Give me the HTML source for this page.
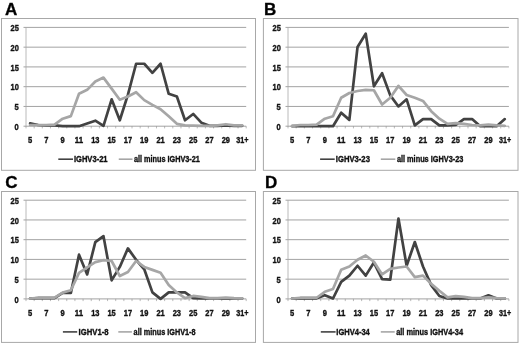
<!DOCTYPE html>
<html lang="en"><head><meta charset="utf-8"><title>IGHV CDR3 length distributions</title>
<style>
html,body{margin:0;padding:0;background:#fff;}
body{width:520px;height:345px;overflow:hidden;}
svg{display:block;}
text{font-family:"Liberation Sans","DejaVu Sans",sans-serif;font-weight:bold;fill:#111;stroke:#111;stroke-width:0.35px;}
.pl{font-size:17px;fill:#000;}
.ax{font-size:8.6px;}
.lg{font-size:8.6px;}
</style></head><body>
<svg width="520" height="345" viewBox="0 0 520 345">
<rect x="0" y="0" width="520" height="345" fill="#fff"/>

<g id="panelA">
<text class="pl" x="4.9" y="15.35">A</text>
<rect x="1.5" y="18.5" width="254" height="151.8" fill="#fff" stroke="#a8a8a8" stroke-width="1"/>
<line x1="23.5" y1="126.2" x2="246.2" y2="126.2" stroke="#8c8c8c" stroke-width="0.8"/>
<text class="ax" x="14.6" y="129.85" textLength="4.2" lengthAdjust="spacingAndGlyphs">0</text>
<line x1="23.5" y1="106.44" x2="246.2" y2="106.44" stroke="#8c8c8c" stroke-width="0.8"/>
<text class="ax" x="14.6" y="110.09" textLength="4.2" lengthAdjust="spacingAndGlyphs">5</text>
<line x1="23.5" y1="86.68" x2="246.2" y2="86.68" stroke="#8c8c8c" stroke-width="0.8"/>
<text class="ax" x="10.5" y="90.33" textLength="8.3" lengthAdjust="spacingAndGlyphs">10</text>
<line x1="23.5" y1="66.92" x2="246.2" y2="66.92" stroke="#8c8c8c" stroke-width="0.8"/>
<text class="ax" x="10.5" y="70.57" textLength="8.3" lengthAdjust="spacingAndGlyphs">15</text>
<line x1="23.5" y1="47.16" x2="246.2" y2="47.16" stroke="#8c8c8c" stroke-width="0.8"/>
<text class="ax" x="10.5" y="50.81" textLength="8.3" lengthAdjust="spacingAndGlyphs">20</text>
<line x1="23.5" y1="27.4" x2="246.2" y2="27.4" stroke="#8c8c8c" stroke-width="0.8"/>
<text class="ax" x="10.5" y="31.05" textLength="8.3" lengthAdjust="spacingAndGlyphs">25</text>
<line x1="26" y1="27.4" x2="26" y2="126.2" stroke="#a8a8a8" stroke-width="0.8"/>
<line x1="26" y1="126.2" x2="26" y2="128.4" stroke="#8c8c8c" stroke-width="0.6"/>
<line x1="34.16" y1="126.2" x2="34.16" y2="128.4" stroke="#8c8c8c" stroke-width="0.6"/>
<line x1="42.31" y1="126.2" x2="42.31" y2="128.4" stroke="#8c8c8c" stroke-width="0.6"/>
<line x1="50.47" y1="126.2" x2="50.47" y2="128.4" stroke="#8c8c8c" stroke-width="0.6"/>
<line x1="58.62" y1="126.2" x2="58.62" y2="128.4" stroke="#8c8c8c" stroke-width="0.6"/>
<line x1="66.78" y1="126.2" x2="66.78" y2="128.4" stroke="#8c8c8c" stroke-width="0.6"/>
<line x1="74.93" y1="126.2" x2="74.93" y2="128.4" stroke="#8c8c8c" stroke-width="0.6"/>
<line x1="83.09" y1="126.2" x2="83.09" y2="128.4" stroke="#8c8c8c" stroke-width="0.6"/>
<line x1="91.24" y1="126.2" x2="91.24" y2="128.4" stroke="#8c8c8c" stroke-width="0.6"/>
<line x1="99.4" y1="126.2" x2="99.4" y2="128.4" stroke="#8c8c8c" stroke-width="0.6"/>
<line x1="107.56" y1="126.2" x2="107.56" y2="128.4" stroke="#8c8c8c" stroke-width="0.6"/>
<line x1="115.71" y1="126.2" x2="115.71" y2="128.4" stroke="#8c8c8c" stroke-width="0.6"/>
<line x1="123.87" y1="126.2" x2="123.87" y2="128.4" stroke="#8c8c8c" stroke-width="0.6"/>
<line x1="132.02" y1="126.2" x2="132.02" y2="128.4" stroke="#8c8c8c" stroke-width="0.6"/>
<line x1="140.18" y1="126.2" x2="140.18" y2="128.4" stroke="#8c8c8c" stroke-width="0.6"/>
<line x1="148.33" y1="126.2" x2="148.33" y2="128.4" stroke="#8c8c8c" stroke-width="0.6"/>
<line x1="156.49" y1="126.2" x2="156.49" y2="128.4" stroke="#8c8c8c" stroke-width="0.6"/>
<line x1="164.64" y1="126.2" x2="164.64" y2="128.4" stroke="#8c8c8c" stroke-width="0.6"/>
<line x1="172.8" y1="126.2" x2="172.8" y2="128.4" stroke="#8c8c8c" stroke-width="0.6"/>
<line x1="180.96" y1="126.2" x2="180.96" y2="128.4" stroke="#8c8c8c" stroke-width="0.6"/>
<line x1="189.11" y1="126.2" x2="189.11" y2="128.4" stroke="#8c8c8c" stroke-width="0.6"/>
<line x1="197.27" y1="126.2" x2="197.27" y2="128.4" stroke="#8c8c8c" stroke-width="0.6"/>
<line x1="205.42" y1="126.2" x2="205.42" y2="128.4" stroke="#8c8c8c" stroke-width="0.6"/>
<line x1="213.58" y1="126.2" x2="213.58" y2="128.4" stroke="#8c8c8c" stroke-width="0.6"/>
<line x1="221.73" y1="126.2" x2="221.73" y2="128.4" stroke="#8c8c8c" stroke-width="0.6"/>
<line x1="229.89" y1="126.2" x2="229.89" y2="128.4" stroke="#8c8c8c" stroke-width="0.6"/>
<line x1="238.04" y1="126.2" x2="238.04" y2="128.4" stroke="#8c8c8c" stroke-width="0.6"/>
<line x1="246.2" y1="126.2" x2="246.2" y2="128.4" stroke="#8c8c8c" stroke-width="0.6"/>
<text class="ax" x="27.98" y="143.2" textLength="4.2" lengthAdjust="spacingAndGlyphs">5</text>
<text class="ax" x="44.29" y="143.2" textLength="4.2" lengthAdjust="spacingAndGlyphs">7</text>
<text class="ax" x="60.6" y="143.2" textLength="4.2" lengthAdjust="spacingAndGlyphs">9</text>
<text class="ax" x="74.86" y="143.2" textLength="8.3" lengthAdjust="spacingAndGlyphs">11</text>
<text class="ax" x="91.17" y="143.2" textLength="8.3" lengthAdjust="spacingAndGlyphs">13</text>
<text class="ax" x="107.48" y="143.2" textLength="8.3" lengthAdjust="spacingAndGlyphs">15</text>
<text class="ax" x="123.79" y="143.2" textLength="8.3" lengthAdjust="spacingAndGlyphs">17</text>
<text class="ax" x="140.11" y="143.2" textLength="8.3" lengthAdjust="spacingAndGlyphs">19</text>
<text class="ax" x="156.42" y="143.2" textLength="8.3" lengthAdjust="spacingAndGlyphs">21</text>
<text class="ax" x="172.73" y="143.2" textLength="8.3" lengthAdjust="spacingAndGlyphs">23</text>
<text class="ax" x="189.04" y="143.2" textLength="8.3" lengthAdjust="spacingAndGlyphs">25</text>
<text class="ax" x="205.35" y="143.2" textLength="8.3" lengthAdjust="spacingAndGlyphs">27</text>
<text class="ax" x="221.66" y="143.2" textLength="8.3" lengthAdjust="spacingAndGlyphs">29</text>
<text class="ax" x="236.32" y="143.2" textLength="12.2" lengthAdjust="spacingAndGlyphs">31+</text>
<polyline points="30.08,123.43 38.23,125.01 46.39,125.41 54.54,125.41 62.7,126.2 70.86,126.2 79.01,126.2 87.17,123.43 95.32,120.67 103.48,125.8 111.63,99.33 119.79,120.27 127.94,94.58 136.1,63.76 144.26,63.76 152.41,72.85 160.57,63.76 168.72,93.79 176.88,96.56 185.03,120.27 193.19,113.95 201.34,122.64 209.5,125.8 217.66,125.8 225.81,125.41 233.97,125.8 242.12,125.8" fill="none" stroke="#424242" stroke-width="2.7" stroke-linejoin="round" stroke-linecap="round"/>
<polyline points="30.08,125.01 38.23,125.01 46.39,125.01 54.54,124.62 62.7,118.69 70.86,116.12 79.01,93.79 87.17,89.84 95.32,81.54 103.48,77.59 111.63,88.66 119.79,99.72 127.94,96.56 136.1,92.21 144.26,100.12 152.41,104.86 160.57,109.21 168.72,116.32 176.88,123.83 185.03,125.41 193.19,125.61 201.34,125.8 209.5,125.8 217.66,125.41 225.81,124.22 233.97,125.41 242.12,125.41" fill="none" stroke="#a6a6a6" stroke-width="2.7" stroke-linejoin="round" stroke-linecap="round"/>
<line x1="58.3" y1="159.2" x2="73" y2="159.2" stroke="#424242" stroke-width="1.6"/>
<text class="lg" x="73.9" y="162.35" textLength="33.7" lengthAdjust="spacingAndGlyphs">IGHV3-21</text>
<line x1="118.75" y1="159.2" x2="132.5" y2="159.2" stroke="#a6a6a6" stroke-width="1.6"/>
<text class="lg" x="133.9" y="162.35" textLength="66" lengthAdjust="spacingAndGlyphs">all minus IGHV3-21</text>
</g>
<g id="panelB">
<text class="pl" x="264" y="15.35">B</text>
<rect x="263.4" y="18.5" width="254.6" height="151.8" fill="#fff" stroke="#a8a8a8" stroke-width="1"/>
<line x1="285.5" y1="126.2" x2="508.9" y2="126.2" stroke="#8c8c8c" stroke-width="0.8"/>
<text class="ax" x="276.6" y="129.85" textLength="4.2" lengthAdjust="spacingAndGlyphs">0</text>
<line x1="285.5" y1="106.44" x2="508.9" y2="106.44" stroke="#8c8c8c" stroke-width="0.8"/>
<text class="ax" x="276.6" y="110.09" textLength="4.2" lengthAdjust="spacingAndGlyphs">5</text>
<line x1="285.5" y1="86.68" x2="508.9" y2="86.68" stroke="#8c8c8c" stroke-width="0.8"/>
<text class="ax" x="272.5" y="90.33" textLength="8.3" lengthAdjust="spacingAndGlyphs">10</text>
<line x1="285.5" y1="66.92" x2="508.9" y2="66.92" stroke="#8c8c8c" stroke-width="0.8"/>
<text class="ax" x="272.5" y="70.57" textLength="8.3" lengthAdjust="spacingAndGlyphs">15</text>
<line x1="285.5" y1="47.16" x2="508.9" y2="47.16" stroke="#8c8c8c" stroke-width="0.8"/>
<text class="ax" x="272.5" y="50.81" textLength="8.3" lengthAdjust="spacingAndGlyphs">20</text>
<line x1="285.5" y1="27.4" x2="508.9" y2="27.4" stroke="#8c8c8c" stroke-width="0.8"/>
<text class="ax" x="272.5" y="31.05" textLength="8.3" lengthAdjust="spacingAndGlyphs">25</text>
<line x1="288" y1="27.4" x2="288" y2="126.2" stroke="#a8a8a8" stroke-width="0.8"/>
<line x1="288" y1="126.2" x2="288" y2="128.4" stroke="#8c8c8c" stroke-width="0.6"/>
<line x1="296.18" y1="126.2" x2="296.18" y2="128.4" stroke="#8c8c8c" stroke-width="0.6"/>
<line x1="304.36" y1="126.2" x2="304.36" y2="128.4" stroke="#8c8c8c" stroke-width="0.6"/>
<line x1="312.54" y1="126.2" x2="312.54" y2="128.4" stroke="#8c8c8c" stroke-width="0.6"/>
<line x1="320.73" y1="126.2" x2="320.73" y2="128.4" stroke="#8c8c8c" stroke-width="0.6"/>
<line x1="328.91" y1="126.2" x2="328.91" y2="128.4" stroke="#8c8c8c" stroke-width="0.6"/>
<line x1="337.09" y1="126.2" x2="337.09" y2="128.4" stroke="#8c8c8c" stroke-width="0.6"/>
<line x1="345.27" y1="126.2" x2="345.27" y2="128.4" stroke="#8c8c8c" stroke-width="0.6"/>
<line x1="353.45" y1="126.2" x2="353.45" y2="128.4" stroke="#8c8c8c" stroke-width="0.6"/>
<line x1="361.63" y1="126.2" x2="361.63" y2="128.4" stroke="#8c8c8c" stroke-width="0.6"/>
<line x1="369.81" y1="126.2" x2="369.81" y2="128.4" stroke="#8c8c8c" stroke-width="0.6"/>
<line x1="378" y1="126.2" x2="378" y2="128.4" stroke="#8c8c8c" stroke-width="0.6"/>
<line x1="386.18" y1="126.2" x2="386.18" y2="128.4" stroke="#8c8c8c" stroke-width="0.6"/>
<line x1="394.36" y1="126.2" x2="394.36" y2="128.4" stroke="#8c8c8c" stroke-width="0.6"/>
<line x1="402.54" y1="126.2" x2="402.54" y2="128.4" stroke="#8c8c8c" stroke-width="0.6"/>
<line x1="410.72" y1="126.2" x2="410.72" y2="128.4" stroke="#8c8c8c" stroke-width="0.6"/>
<line x1="418.9" y1="126.2" x2="418.9" y2="128.4" stroke="#8c8c8c" stroke-width="0.6"/>
<line x1="427.09" y1="126.2" x2="427.09" y2="128.4" stroke="#8c8c8c" stroke-width="0.6"/>
<line x1="435.27" y1="126.2" x2="435.27" y2="128.4" stroke="#8c8c8c" stroke-width="0.6"/>
<line x1="443.45" y1="126.2" x2="443.45" y2="128.4" stroke="#8c8c8c" stroke-width="0.6"/>
<line x1="451.63" y1="126.2" x2="451.63" y2="128.4" stroke="#8c8c8c" stroke-width="0.6"/>
<line x1="459.81" y1="126.2" x2="459.81" y2="128.4" stroke="#8c8c8c" stroke-width="0.6"/>
<line x1="467.99" y1="126.2" x2="467.99" y2="128.4" stroke="#8c8c8c" stroke-width="0.6"/>
<line x1="476.17" y1="126.2" x2="476.17" y2="128.4" stroke="#8c8c8c" stroke-width="0.6"/>
<line x1="484.36" y1="126.2" x2="484.36" y2="128.4" stroke="#8c8c8c" stroke-width="0.6"/>
<line x1="492.54" y1="126.2" x2="492.54" y2="128.4" stroke="#8c8c8c" stroke-width="0.6"/>
<line x1="500.72" y1="126.2" x2="500.72" y2="128.4" stroke="#8c8c8c" stroke-width="0.6"/>
<line x1="508.9" y1="126.2" x2="508.9" y2="128.4" stroke="#8c8c8c" stroke-width="0.6"/>
<text class="ax" x="289.99" y="143.2" textLength="4.2" lengthAdjust="spacingAndGlyphs">5</text>
<text class="ax" x="306.35" y="143.2" textLength="4.2" lengthAdjust="spacingAndGlyphs">7</text>
<text class="ax" x="322.72" y="143.2" textLength="4.2" lengthAdjust="spacingAndGlyphs">9</text>
<text class="ax" x="337.03" y="143.2" textLength="8.3" lengthAdjust="spacingAndGlyphs">11</text>
<text class="ax" x="353.39" y="143.2" textLength="8.3" lengthAdjust="spacingAndGlyphs">13</text>
<text class="ax" x="369.76" y="143.2" textLength="8.3" lengthAdjust="spacingAndGlyphs">15</text>
<text class="ax" x="386.12" y="143.2" textLength="8.3" lengthAdjust="spacingAndGlyphs">17</text>
<text class="ax" x="402.48" y="143.2" textLength="8.3" lengthAdjust="spacingAndGlyphs">19</text>
<text class="ax" x="418.84" y="143.2" textLength="8.3" lengthAdjust="spacingAndGlyphs">21</text>
<text class="ax" x="435.21" y="143.2" textLength="8.3" lengthAdjust="spacingAndGlyphs">23</text>
<text class="ax" x="451.57" y="143.2" textLength="8.3" lengthAdjust="spacingAndGlyphs">25</text>
<text class="ax" x="467.93" y="143.2" textLength="8.3" lengthAdjust="spacingAndGlyphs">27</text>
<text class="ax" x="484.3" y="143.2" textLength="8.3" lengthAdjust="spacingAndGlyphs">29</text>
<text class="ax" x="499.01" y="143.2" textLength="12.2" lengthAdjust="spacingAndGlyphs">31+</text>
<polyline points="292.09,126.2 300.27,126.2 308.45,126.2 316.64,126.2 324.82,126.2 333,126.2 341.18,112.76 349.36,119.88 357.54,46.96 365.72,33.72 373.91,86.28 382.09,73.24 390.27,95.37 398.45,106.44 406.63,99.33 414.81,125.41 422.99,119.09 431.18,119.09 439.36,125.41 447.54,125.41 455.72,125.01 463.9,119.09 472.08,119.09 480.26,126.2 488.45,126.2 496.63,126.2 504.81,119.09" fill="none" stroke="#424242" stroke-width="2.7" stroke-linejoin="round" stroke-linecap="round"/>
<polyline points="292.09,125.8 300.27,125.01 308.45,125.01 316.64,124.62 324.82,118.69 333,116.32 341.18,97.75 349.36,93 357.54,91.03 365.72,89.84 373.91,90.24 382.09,104.46 390.27,97.75 398.45,85.89 406.63,94.98 414.81,97.75 422.99,100.91 431.18,111.18 439.36,118.69 447.54,123.83 455.72,123.04 463.9,123.83 472.08,125.01 480.26,125.41 488.45,124.62 496.63,125.41 504.81,125.8" fill="none" stroke="#a6a6a6" stroke-width="2.7" stroke-linejoin="round" stroke-linecap="round"/>
<line x1="320.1" y1="159.2" x2="334.7" y2="159.2" stroke="#424242" stroke-width="1.6"/>
<text class="lg" x="335.8" y="162.35" textLength="34.1" lengthAdjust="spacingAndGlyphs">IGHV3-23</text>
<line x1="380.8" y1="159.2" x2="395.3" y2="159.2" stroke="#a6a6a6" stroke-width="1.6"/>
<text class="lg" x="396.9" y="162.35" textLength="66.5" lengthAdjust="spacingAndGlyphs">all minus IGHV3-23</text>
</g>
<g id="panelC">
<text class="pl" x="5.3" y="188.4">C</text>
<rect x="1.5" y="191.5" width="254" height="150.9" fill="#fff" stroke="#a8a8a8" stroke-width="1"/>
<line x1="23.5" y1="298.9" x2="246.2" y2="298.9" stroke="#8c8c8c" stroke-width="0.8"/>
<text class="ax" x="14.6" y="302.55" textLength="4.2" lengthAdjust="spacingAndGlyphs">0</text>
<line x1="23.5" y1="279.16" x2="246.2" y2="279.16" stroke="#8c8c8c" stroke-width="0.8"/>
<text class="ax" x="14.6" y="282.81" textLength="4.2" lengthAdjust="spacingAndGlyphs">5</text>
<line x1="23.5" y1="259.42" x2="246.2" y2="259.42" stroke="#8c8c8c" stroke-width="0.8"/>
<text class="ax" x="10.5" y="263.07" textLength="8.3" lengthAdjust="spacingAndGlyphs">10</text>
<line x1="23.5" y1="239.68" x2="246.2" y2="239.68" stroke="#8c8c8c" stroke-width="0.8"/>
<text class="ax" x="10.5" y="243.33" textLength="8.3" lengthAdjust="spacingAndGlyphs">15</text>
<line x1="23.5" y1="219.94" x2="246.2" y2="219.94" stroke="#8c8c8c" stroke-width="0.8"/>
<text class="ax" x="10.5" y="223.59" textLength="8.3" lengthAdjust="spacingAndGlyphs">20</text>
<line x1="23.5" y1="200.2" x2="246.2" y2="200.2" stroke="#8c8c8c" stroke-width="0.8"/>
<text class="ax" x="10.5" y="203.85" textLength="8.3" lengthAdjust="spacingAndGlyphs">25</text>
<line x1="26" y1="200.2" x2="26" y2="298.9" stroke="#a8a8a8" stroke-width="0.8"/>
<line x1="26" y1="298.9" x2="26" y2="301.1" stroke="#8c8c8c" stroke-width="0.6"/>
<line x1="34.16" y1="298.9" x2="34.16" y2="301.1" stroke="#8c8c8c" stroke-width="0.6"/>
<line x1="42.31" y1="298.9" x2="42.31" y2="301.1" stroke="#8c8c8c" stroke-width="0.6"/>
<line x1="50.47" y1="298.9" x2="50.47" y2="301.1" stroke="#8c8c8c" stroke-width="0.6"/>
<line x1="58.62" y1="298.9" x2="58.62" y2="301.1" stroke="#8c8c8c" stroke-width="0.6"/>
<line x1="66.78" y1="298.9" x2="66.78" y2="301.1" stroke="#8c8c8c" stroke-width="0.6"/>
<line x1="74.93" y1="298.9" x2="74.93" y2="301.1" stroke="#8c8c8c" stroke-width="0.6"/>
<line x1="83.09" y1="298.9" x2="83.09" y2="301.1" stroke="#8c8c8c" stroke-width="0.6"/>
<line x1="91.24" y1="298.9" x2="91.24" y2="301.1" stroke="#8c8c8c" stroke-width="0.6"/>
<line x1="99.4" y1="298.9" x2="99.4" y2="301.1" stroke="#8c8c8c" stroke-width="0.6"/>
<line x1="107.56" y1="298.9" x2="107.56" y2="301.1" stroke="#8c8c8c" stroke-width="0.6"/>
<line x1="115.71" y1="298.9" x2="115.71" y2="301.1" stroke="#8c8c8c" stroke-width="0.6"/>
<line x1="123.87" y1="298.9" x2="123.87" y2="301.1" stroke="#8c8c8c" stroke-width="0.6"/>
<line x1="132.02" y1="298.9" x2="132.02" y2="301.1" stroke="#8c8c8c" stroke-width="0.6"/>
<line x1="140.18" y1="298.9" x2="140.18" y2="301.1" stroke="#8c8c8c" stroke-width="0.6"/>
<line x1="148.33" y1="298.9" x2="148.33" y2="301.1" stroke="#8c8c8c" stroke-width="0.6"/>
<line x1="156.49" y1="298.9" x2="156.49" y2="301.1" stroke="#8c8c8c" stroke-width="0.6"/>
<line x1="164.64" y1="298.9" x2="164.64" y2="301.1" stroke="#8c8c8c" stroke-width="0.6"/>
<line x1="172.8" y1="298.9" x2="172.8" y2="301.1" stroke="#8c8c8c" stroke-width="0.6"/>
<line x1="180.96" y1="298.9" x2="180.96" y2="301.1" stroke="#8c8c8c" stroke-width="0.6"/>
<line x1="189.11" y1="298.9" x2="189.11" y2="301.1" stroke="#8c8c8c" stroke-width="0.6"/>
<line x1="197.27" y1="298.9" x2="197.27" y2="301.1" stroke="#8c8c8c" stroke-width="0.6"/>
<line x1="205.42" y1="298.9" x2="205.42" y2="301.1" stroke="#8c8c8c" stroke-width="0.6"/>
<line x1="213.58" y1="298.9" x2="213.58" y2="301.1" stroke="#8c8c8c" stroke-width="0.6"/>
<line x1="221.73" y1="298.9" x2="221.73" y2="301.1" stroke="#8c8c8c" stroke-width="0.6"/>
<line x1="229.89" y1="298.9" x2="229.89" y2="301.1" stroke="#8c8c8c" stroke-width="0.6"/>
<line x1="238.04" y1="298.9" x2="238.04" y2="301.1" stroke="#8c8c8c" stroke-width="0.6"/>
<line x1="246.2" y1="298.9" x2="246.2" y2="301.1" stroke="#8c8c8c" stroke-width="0.6"/>
<text class="ax" x="27.98" y="315.9" textLength="4.2" lengthAdjust="spacingAndGlyphs">5</text>
<text class="ax" x="44.29" y="315.9" textLength="4.2" lengthAdjust="spacingAndGlyphs">7</text>
<text class="ax" x="60.6" y="315.9" textLength="4.2" lengthAdjust="spacingAndGlyphs">9</text>
<text class="ax" x="74.86" y="315.9" textLength="8.3" lengthAdjust="spacingAndGlyphs">11</text>
<text class="ax" x="91.17" y="315.9" textLength="8.3" lengthAdjust="spacingAndGlyphs">13</text>
<text class="ax" x="107.48" y="315.9" textLength="8.3" lengthAdjust="spacingAndGlyphs">15</text>
<text class="ax" x="123.79" y="315.9" textLength="8.3" lengthAdjust="spacingAndGlyphs">17</text>
<text class="ax" x="140.11" y="315.9" textLength="8.3" lengthAdjust="spacingAndGlyphs">19</text>
<text class="ax" x="156.42" y="315.9" textLength="8.3" lengthAdjust="spacingAndGlyphs">21</text>
<text class="ax" x="172.73" y="315.9" textLength="8.3" lengthAdjust="spacingAndGlyphs">23</text>
<text class="ax" x="189.04" y="315.9" textLength="8.3" lengthAdjust="spacingAndGlyphs">25</text>
<text class="ax" x="205.35" y="315.9" textLength="8.3" lengthAdjust="spacingAndGlyphs">27</text>
<text class="ax" x="221.66" y="315.9" textLength="8.3" lengthAdjust="spacingAndGlyphs">29</text>
<text class="ax" x="236.32" y="315.9" textLength="12.2" lengthAdjust="spacingAndGlyphs">31+</text>
<polyline points="30.08,298.51 38.23,298.11 46.39,298.11 54.54,298.11 62.7,292.98 70.86,292.98 79.01,254.68 87.17,274.42 95.32,242.05 103.48,236.13 111.63,280.34 119.79,266.92 127.94,248.37 136.1,259.81 144.26,269.29 152.41,292.39 160.57,298.9 168.72,292.39 176.88,292.39 185.03,292.39 193.19,298.11 201.34,298.51 209.5,298.51 217.66,298.51 225.81,298.51 233.97,298.51 242.12,298.51" fill="none" stroke="#424242" stroke-width="2.7" stroke-linejoin="round" stroke-linecap="round"/>
<polyline points="30.08,298.51 38.23,297.72 46.39,297.72 54.54,297.72 62.7,292.58 70.86,290.21 79.01,272.84 87.17,267.32 95.32,262.18 103.48,260.21 111.63,261 119.79,276 127.94,272.05 136.1,261 144.26,266.92 152.41,269.88 160.57,272.84 168.72,285.08 176.88,292.39 185.03,298.11 193.19,295.94 201.34,296.93 209.5,298.11 217.66,298.11 225.81,297.52 233.97,298.11 242.12,298.31" fill="none" stroke="#a6a6a6" stroke-width="2.7" stroke-linejoin="round" stroke-linecap="round"/>
<line x1="62.9" y1="331.9" x2="77.2" y2="331.9" stroke="#424242" stroke-width="1.6"/>
<text class="lg" x="78.6" y="335.05" textLength="30.0" lengthAdjust="spacingAndGlyphs">IGHV1-8</text>
<line x1="118.3" y1="331.9" x2="131.9" y2="331.9" stroke="#a6a6a6" stroke-width="1.6"/>
<text class="lg" x="133.6" y="335.05" textLength="62.0" lengthAdjust="spacingAndGlyphs">all minus IGHV1-8</text>
</g>
<g id="panelD">
<text class="pl" x="265.1" y="188.1">D</text>
<rect x="263.4" y="191.5" width="254.6" height="150.9" fill="#fff" stroke="#a8a8a8" stroke-width="1"/>
<line x1="285.5" y1="298.9" x2="508.9" y2="298.9" stroke="#8c8c8c" stroke-width="0.8"/>
<text class="ax" x="276.6" y="302.55" textLength="4.2" lengthAdjust="spacingAndGlyphs">0</text>
<line x1="285.5" y1="279.16" x2="508.9" y2="279.16" stroke="#8c8c8c" stroke-width="0.8"/>
<text class="ax" x="276.6" y="282.81" textLength="4.2" lengthAdjust="spacingAndGlyphs">5</text>
<line x1="285.5" y1="259.42" x2="508.9" y2="259.42" stroke="#8c8c8c" stroke-width="0.8"/>
<text class="ax" x="272.5" y="263.07" textLength="8.3" lengthAdjust="spacingAndGlyphs">10</text>
<line x1="285.5" y1="239.68" x2="508.9" y2="239.68" stroke="#8c8c8c" stroke-width="0.8"/>
<text class="ax" x="272.5" y="243.33" textLength="8.3" lengthAdjust="spacingAndGlyphs">15</text>
<line x1="285.5" y1="219.94" x2="508.9" y2="219.94" stroke="#8c8c8c" stroke-width="0.8"/>
<text class="ax" x="272.5" y="223.59" textLength="8.3" lengthAdjust="spacingAndGlyphs">20</text>
<line x1="285.5" y1="200.2" x2="508.9" y2="200.2" stroke="#8c8c8c" stroke-width="0.8"/>
<text class="ax" x="272.5" y="203.85" textLength="8.3" lengthAdjust="spacingAndGlyphs">25</text>
<line x1="288" y1="200.2" x2="288" y2="298.9" stroke="#a8a8a8" stroke-width="0.8"/>
<line x1="288" y1="298.9" x2="288" y2="301.1" stroke="#8c8c8c" stroke-width="0.6"/>
<line x1="296.18" y1="298.9" x2="296.18" y2="301.1" stroke="#8c8c8c" stroke-width="0.6"/>
<line x1="304.36" y1="298.9" x2="304.36" y2="301.1" stroke="#8c8c8c" stroke-width="0.6"/>
<line x1="312.54" y1="298.9" x2="312.54" y2="301.1" stroke="#8c8c8c" stroke-width="0.6"/>
<line x1="320.73" y1="298.9" x2="320.73" y2="301.1" stroke="#8c8c8c" stroke-width="0.6"/>
<line x1="328.91" y1="298.9" x2="328.91" y2="301.1" stroke="#8c8c8c" stroke-width="0.6"/>
<line x1="337.09" y1="298.9" x2="337.09" y2="301.1" stroke="#8c8c8c" stroke-width="0.6"/>
<line x1="345.27" y1="298.9" x2="345.27" y2="301.1" stroke="#8c8c8c" stroke-width="0.6"/>
<line x1="353.45" y1="298.9" x2="353.45" y2="301.1" stroke="#8c8c8c" stroke-width="0.6"/>
<line x1="361.63" y1="298.9" x2="361.63" y2="301.1" stroke="#8c8c8c" stroke-width="0.6"/>
<line x1="369.81" y1="298.9" x2="369.81" y2="301.1" stroke="#8c8c8c" stroke-width="0.6"/>
<line x1="378" y1="298.9" x2="378" y2="301.1" stroke="#8c8c8c" stroke-width="0.6"/>
<line x1="386.18" y1="298.9" x2="386.18" y2="301.1" stroke="#8c8c8c" stroke-width="0.6"/>
<line x1="394.36" y1="298.9" x2="394.36" y2="301.1" stroke="#8c8c8c" stroke-width="0.6"/>
<line x1="402.54" y1="298.9" x2="402.54" y2="301.1" stroke="#8c8c8c" stroke-width="0.6"/>
<line x1="410.72" y1="298.9" x2="410.72" y2="301.1" stroke="#8c8c8c" stroke-width="0.6"/>
<line x1="418.9" y1="298.9" x2="418.9" y2="301.1" stroke="#8c8c8c" stroke-width="0.6"/>
<line x1="427.09" y1="298.9" x2="427.09" y2="301.1" stroke="#8c8c8c" stroke-width="0.6"/>
<line x1="435.27" y1="298.9" x2="435.27" y2="301.1" stroke="#8c8c8c" stroke-width="0.6"/>
<line x1="443.45" y1="298.9" x2="443.45" y2="301.1" stroke="#8c8c8c" stroke-width="0.6"/>
<line x1="451.63" y1="298.9" x2="451.63" y2="301.1" stroke="#8c8c8c" stroke-width="0.6"/>
<line x1="459.81" y1="298.9" x2="459.81" y2="301.1" stroke="#8c8c8c" stroke-width="0.6"/>
<line x1="467.99" y1="298.9" x2="467.99" y2="301.1" stroke="#8c8c8c" stroke-width="0.6"/>
<line x1="476.17" y1="298.9" x2="476.17" y2="301.1" stroke="#8c8c8c" stroke-width="0.6"/>
<line x1="484.36" y1="298.9" x2="484.36" y2="301.1" stroke="#8c8c8c" stroke-width="0.6"/>
<line x1="492.54" y1="298.9" x2="492.54" y2="301.1" stroke="#8c8c8c" stroke-width="0.6"/>
<line x1="500.72" y1="298.9" x2="500.72" y2="301.1" stroke="#8c8c8c" stroke-width="0.6"/>
<line x1="508.9" y1="298.9" x2="508.9" y2="301.1" stroke="#8c8c8c" stroke-width="0.6"/>
<text class="ax" x="289.99" y="315.9" textLength="4.2" lengthAdjust="spacingAndGlyphs">5</text>
<text class="ax" x="306.35" y="315.9" textLength="4.2" lengthAdjust="spacingAndGlyphs">7</text>
<text class="ax" x="322.72" y="315.9" textLength="4.2" lengthAdjust="spacingAndGlyphs">9</text>
<text class="ax" x="337.03" y="315.9" textLength="8.3" lengthAdjust="spacingAndGlyphs">11</text>
<text class="ax" x="353.39" y="315.9" textLength="8.3" lengthAdjust="spacingAndGlyphs">13</text>
<text class="ax" x="369.76" y="315.9" textLength="8.3" lengthAdjust="spacingAndGlyphs">15</text>
<text class="ax" x="386.12" y="315.9" textLength="8.3" lengthAdjust="spacingAndGlyphs">17</text>
<text class="ax" x="402.48" y="315.9" textLength="8.3" lengthAdjust="spacingAndGlyphs">19</text>
<text class="ax" x="418.84" y="315.9" textLength="8.3" lengthAdjust="spacingAndGlyphs">21</text>
<text class="ax" x="435.21" y="315.9" textLength="8.3" lengthAdjust="spacingAndGlyphs">23</text>
<text class="ax" x="451.57" y="315.9" textLength="8.3" lengthAdjust="spacingAndGlyphs">25</text>
<text class="ax" x="467.93" y="315.9" textLength="8.3" lengthAdjust="spacingAndGlyphs">27</text>
<text class="ax" x="484.3" y="315.9" textLength="8.3" lengthAdjust="spacingAndGlyphs">29</text>
<text class="ax" x="499.01" y="315.9" textLength="12.2" lengthAdjust="spacingAndGlyphs">31+</text>
<polyline points="292.09,298.51 300.27,298.31 308.45,298.31 316.64,298.31 324.82,295.15 333,298.51 341.18,281.92 349.36,275.61 357.54,265.74 365.72,275.61 373.91,262.58 382.09,279.16 390.27,279.55 398.45,218.56 406.63,265.74 414.81,242.05 422.99,266.53 431.18,285.08 439.36,295.94 447.54,298.51 455.72,298.51 463.9,298.51 472.08,298.51 480.26,298.51 488.45,295.35 496.63,298.51 504.81,298.51" fill="none" stroke="#424242" stroke-width="2.7" stroke-linejoin="round" stroke-linecap="round"/>
<polyline points="292.09,298.51 300.27,297.72 308.45,297.72 316.64,297.72 324.82,291.79 333,289.03 341.18,269.68 349.36,266.53 357.54,259.81 365.72,255.47 373.91,261.79 382.09,274.42 390.27,268.9 398.45,267.51 406.63,266.53 414.81,277.19 422.99,275.61 431.18,283.9 439.36,290.81 447.54,297.32 455.72,296.14 463.9,296.93 472.08,298.11 480.26,298.11 488.45,297.32 496.63,298.11 504.81,298.31" fill="none" stroke="#a6a6a6" stroke-width="2.7" stroke-linejoin="round" stroke-linecap="round"/>
<line x1="320.8" y1="331.9" x2="335.6" y2="331.9" stroke="#424242" stroke-width="1.6"/>
<text class="lg" x="336.3" y="335.05" textLength="33.5" lengthAdjust="spacingAndGlyphs">IGHV4-34</text>
<line x1="380.8" y1="331.9" x2="394.7" y2="331.9" stroke="#a6a6a6" stroke-width="1.6"/>
<text class="lg" x="396.2" y="335.05" textLength="66.8" lengthAdjust="spacingAndGlyphs">all minus IGHV4-34</text>
</g>
</svg>
</body></html>
